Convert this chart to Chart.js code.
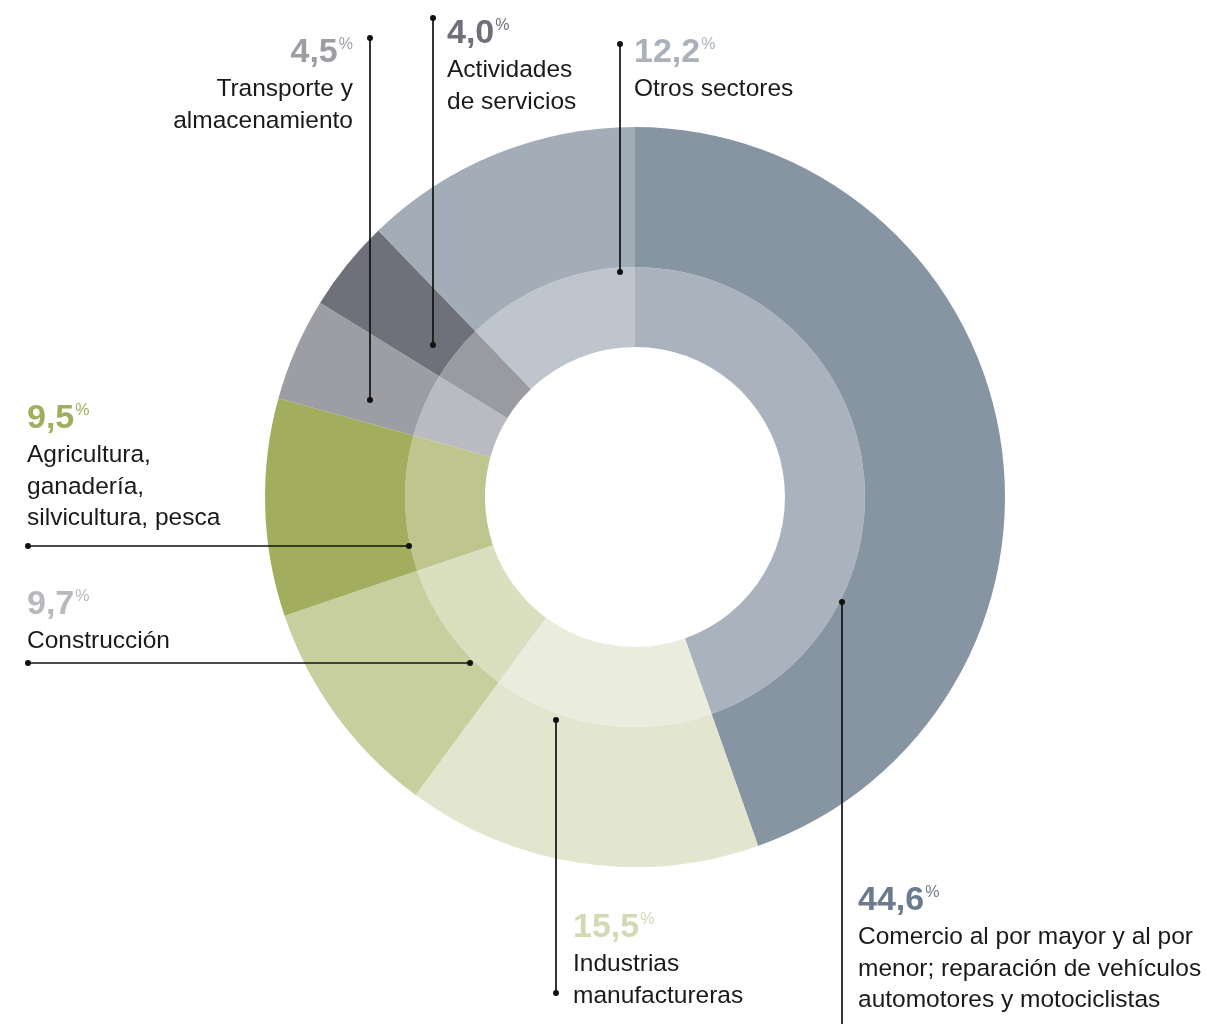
<!DOCTYPE html>
<html>
<head>
<meta charset="utf-8">
<script src="https://cdn.jsdelivr.net/npm/chart.js@4"></script>
<style>
html,body{margin:0;padding:0;background:#fff;}
#wrap{width:1207px;height:1024px;position:relative;}
</style>
</head>
<body>
<div id="wrap"><canvas id="c" width="1207" height="1024"></canvas></div>
<script>
// ---- data ----
const categories = [
  "Comercio al por mayor y al por menor; reparación de vehículos automotores y motociclistas",
  "Industrias manufactureras",
  "Construcción",
  "Agricultura, ganadería, silvicultura, pesca",
  "Transporte y almacenamiento",
  "Actividades de servicios",
  "Otros sectores"
];
const shares = [44.6, 15.5, 9.7, 9.5, 4.5, 4.0, 12.2];
const labelLines = [
  ["Comercio al por mayor y al por", "menor; reparación de vehículos", "automotores y motociclistas"],
  ["Industrias", "manufactureras"],
  ["Construcción"],
  ["Agricultura,", "ganadería,", "silvicultura, pesca"],
  ["Transporte y", "almacenamiento"],
  ["Actividades", "de servicios"],
  ["Otros sectores"]
];
// ---- styles ----
const outerColors = ["#8795a2", "#e2e6cf", "#c7cf9e", "#a2ae5e", "#9c9ea4", "#6f7079", "#a3adb7"];
const innerColors = ["#aab3bd", "#eaecdd", "#d9dfbf", "#bec58d", "#b9bbc0", "#9a9ba0", "#bec5cd"];
const pctColors   = ["#6a7b8c", "#d3d9b2", "#b8b9bd", "#a2ae5e", "#9c9ea4", "#6f7079", "#a9b2bc"];
// label layout: x, baseline y of percentage, alignment, leader line (x1,y1)-(x2,y2), dots
const layout = [
  {x:858, y:910, align:"left",  line:[842,602,842,1030], dots:[true,false]},
  {x:573, y:937, align:"left",  line:[556,720,556,993], dots:[true,true]},
  {x:27,  y:614, align:"left",  line:[28,663,470,663],  dots:[true,true]},
  {x:27,  y:428, align:"left",  line:[28,546,409,546],  dots:[true,true]},
  {x:353, y:62,  align:"right", line:[370,38,370,400],  dots:[true,true]},
  {x:447, y:43,  align:"left",  line:[433,18,433,345],  dots:[true,true]},
  {x:634, y:62,  align:"left",  line:[620,44,620,272],  dots:[true,true]}
];
const FONT = '"Liberation Sans", Arial, sans-serif';

const labelPlugin = {
  id: "labels",
  afterDraw(chart) {
    const ctx = chart.ctx;
    ctx.save();
    layout.forEach((L, i) => {
      // leader line
      const [x1, y1, x2, y2] = L.line;
      ctx.strokeStyle = "#111";
      ctx.lineWidth = 1.7;
      ctx.beginPath(); ctx.moveTo(x1, y1); ctx.lineTo(x2, y2); ctx.stroke();
      ctx.fillStyle = "#111";
      if (L.dots[0]) { ctx.beginPath(); ctx.arc(x1, y1, 3, 0, Math.PI * 2); ctx.fill(); }
      if (L.dots[1]) { ctx.beginPath(); ctx.arc(x2, y2, 3, 0, Math.PI * 2); ctx.fill(); }
      // percentage
      const num = shares[i].toFixed(1).replace(".", ",");
      ctx.font = "bold 34px " + FONT;
      const wNum = ctx.measureText(num).width;
      ctx.font = "16px " + FONT;
      const wPct = ctx.measureText("%").width;
      let sx = L.align === "right" ? L.x - wNum - wPct - 1 : L.x;
      ctx.textAlign = "left";
      ctx.textBaseline = "alphabetic";
      ctx.fillStyle = pctColors[i];
      ctx.font = "bold 34px " + FONT;
      ctx.fillText(num, sx, L.y);
      ctx.font = "16px " + FONT;
      ctx.fillText("%", sx + wNum + 1, L.y - 13);
      // text lines
      ctx.fillStyle = "#1a1a1a";
      ctx.font = "24.5px " + FONT;
      ctx.textAlign = L.align;
      labelLines[i].forEach((t, k) => {
        ctx.fillText(t, L.x, L.y + 34 + k * 31.5);
      });
    });
    ctx.restore();
  }
};

new Chart(document.getElementById("c"), {
  type: "doughnut",
  data: {
    labels: categories,
    datasets: [
      { data: shares, backgroundColor: outerColors, borderWidth: 0, weight: 140, hoverOffset: 0 },
      { data: shares, backgroundColor: innerColors, borderWidth: 0, weight: 80, hoverOffset: 0 }
    ]
  },
  options: {
    responsive: false,
    animation: false,
    cutout: 150,
    layout: { padding: { left: 265, right: 202, top: 127, bottom: 157 } },
    plugins: { legend: { display: false }, tooltip: { enabled: false } },
    events: []
  },
  plugins: [labelPlugin]
});
</script>
</body>
</html>
